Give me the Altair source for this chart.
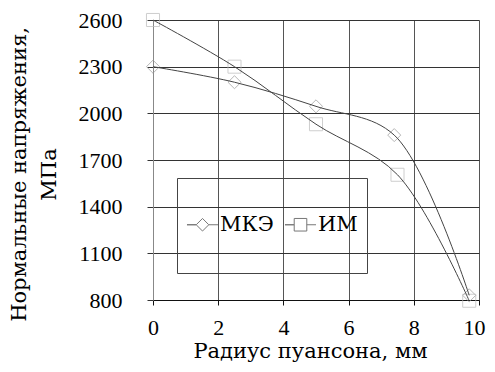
import altair as alt
import pandas as pd

series_names = ["МКЭ", "ИМ"]
x_mke = [0, 2.5, 5, 7.4, 9.7]
y_mke = [2300, 2200, 2045, 1860, 830]
x_im = [0, 2.5, 5, 7.5, 9.7]
y_im = [2600, 2300, 1930, 1605, 795]
x_ticks = [0, 2, 4, 6, 8, 10]
y_ticks = [800, 1100, 1400, 1700, 2000, 2300, 2600]

rows = []
for xv, yv in zip(x_mke, y_mke):
    rows.append({"r": xv, "s": yv, "series": series_names[0]})
for xv, yv in zip(x_im, y_im):
    rows.append({"r": xv, "s": yv, "series": series_names[1]})
df = pd.DataFrame(rows)

FONT = "Liberation Serif, Times New Roman, serif"
TFONT = "DejaVu Serif, serif"

x_enc = alt.X("r:Q", scale=alt.Scale(domain=[0, 10], nice=False, zero=False),
              axis=alt.Axis(values=x_ticks, format="d", title="Радиус пуансона, мм", grid=True,
                            gridColor="#555", domainColor="#111", tickColor="#111",
                            tickSize=5, labelPadding=12, titlePadding=2, labelFlush=False,
                            labelOffset={"condition": {"test": "datum.value == 10", "value": -5}, "value": 0},
                            titleX=157))
y_enc = alt.Y("s:Q", scale=alt.Scale(domain=[800, 2600], nice=False, zero=False),
              axis=alt.Axis(values=y_ticks, format="d", title=["Нормальные напряжения,", "МПа"],
                            grid=True, gridColor="#333", domainColor="#888",
                            tickColor="#333", tickSize=6, labelPadding=25,
                            titlePadding=19, titleLineHeight=30, titleY=154))

lines = alt.Chart(df).mark_line(interpolate="catmull-rom", color="#444", strokeWidth=1).encode(
    x=x_enc, y=y_enc, detail="series:N")

points = alt.Chart(df).mark_point(filled=False, size=170, strokeWidth=1).encode(
    x="r:Q", y="s:Q",
    shape=alt.Shape("series:N", scale=alt.Scale(domain=series_names, range=["diamond", "square"]), legend=None),
    color=alt.Color("series:N", scale=alt.Scale(domain=series_names, range=["#999999", "#bbbbbb"]), legend=None),
)

L = 0.419
D = 0.17
h = "M0,-1M0,1"
p_mke = h + f"M-{L},0L-{D},0L0,-{D}L{D},0L0,{D}L-{D},0ZM{D},0L{L},0"
p_im = h + f"M-{L},0L-{D},0L-{D},-{D}L{D},-{D}L{D},{D}L-{D},{D}L-{D},0ZM{D},0L{L},0"

legend_layer = alt.Chart(df).mark_point(filled=False, opacity=0, color="#777").encode(
    x="r:Q", y="s:Q",
    shape=alt.Shape("series:N", scale=alt.Scale(domain=series_names, range=[p_mke, p_im]),
                    legend=alt.Legend(title=None, orient="none", legendX=24, legendY=158,
                                      direction="horizontal", symbolSize=5476,
                                      symbolOffset=-21,
                                      symbolStrokeColor="#777", symbolStrokeWidth=1,
                                      symbolOpacity=1, symbolFillColor="transparent",
                                      labelFont=TFONT, labelFontSize=21, labelColor="#000",
                                      labelOffset={"expr": "-20"}, columnPadding=8, padding=9,
                                      strokeColor="#444")),
)

chart = alt.layer(points, lines, legend_layer).resolve_scale(shape="independent").properties(
    width=326, height=280,
    autosize=alt.AutoSizeParams(type="none"),
    padding={"left": 145, "top": 12, "right": 8, "bottom": 64},
).configure_axis(
    labelFont=FONT, labelFontSize=22, labelColor="#000",
    titleFont=TFONT, titleFontSize=21, titleColor="#000", titleFontWeight="normal",
).configure_view(stroke=None)

chart.save("out.html", embed_options={"renderer": "svg", "actions": False})
